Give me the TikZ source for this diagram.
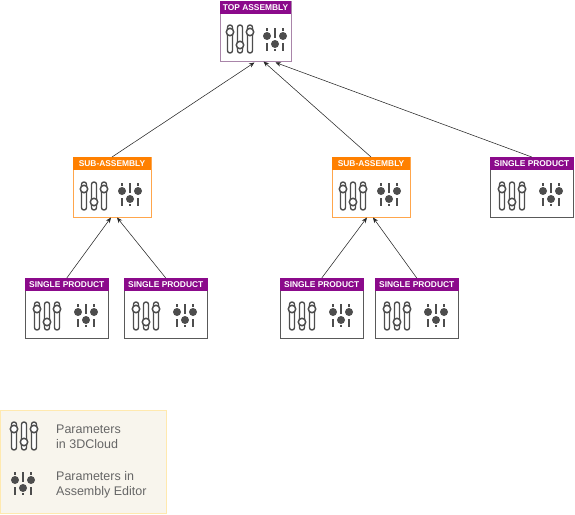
\documentclass[tikz,border=0pt]{standalone}
\usepackage{fontspec}
\setmainfont{Liberation Sans}
\usetikzlibrary{arrows.meta}
\definecolor{prod}{HTML}{8B0A8B}
\definecolor{subc}{HTML}{FF8000}
\definecolor{icon}{HTML}{4D4D4D}
\definecolor{legfill}{HTML}{F8F5ED}
\definecolor{legline}{HTML}{FFE9AF}
\definecolor{legtext}{HTML}{666666}
\tikzset{
  x=1pt,y=-1pt,
  boxbase/.style={draw,line width=0.8pt,fill=white,anchor=north west,minimum height=60.5pt,inner sep=0pt,outer sep=0pt},
  topbox/.style={boxbase,draw=prod!40!gray!70!white,minimum width=71pt},
  subbox/.style={boxbase,draw=subc!70!white,minimum width=78pt},
  prodbox/.style={boxbase,draw=black!65,minimum width=83.5pt},
  headbase/.style={anchor=north,minimum height=13pt,inner sep=0pt,outer sep=0pt,text=white,font=\bfseries\fontsize{8.4}{9}\selectfont},
  prodhead/.style={headbase,fill=prod},
  subhead/.style={headbase,fill=subc},
  link/.style={draw=black!85,line width=0.55pt,-{Stealth[length=5.5pt,width=4.5pt]}},
  legbox/.style={draw=legline,line width=0.8pt,fill=legfill,anchor=north west,minimum width=166pt,minimum height=103pt,inner sep=0pt,outer sep=0pt},
  legtxt/.style={anchor=west,align=left,inner sep=0pt,text=legtext,font=\fontsize{12.5}{15}\selectfont},
  tube/.style={draw=icon,line width=1.4pt,fill=white,rounded corners=2.4pt},
  knob/.style={draw=icon,line width=1.5pt,fill=white},
  tick/.style={draw=icon,line width=1.7pt},
  slidersicon/.pic={
    \path[tube] (1.5,0) rectangle (6.5,28);
    \path[tube] (11.5,0) rectangle (16.5,28);
    \path[tube] (21.5,0) rectangle (26.5,28);
    \path[knob] (4,7) circle (3.7);
    \path[knob] (14,20) circle (3.7);
    \path[knob] (24,7) circle (3.7);
  },
  knobsicon/.pic={
    \path[tick] (0,0) -- (0,2.5);
    \fill[icon] (0,8) circle (4);
    \path[tick] (0,15) -- (0,22.5);
    \path[tick] (8,0) -- (8,10);
    \fill[icon] (8,16) circle (4);
    \path[tick] (8,21) -- (8,23);
    \path[tick] (16,0) -- (16,2.5);
    \fill[icon] (16,8) circle (4);
    \path[tick] (16,15) -- (16,22.5);
  }
}
\begin{document}
\begin{tikzpicture}
\useasboundingbox (0,0) rectangle (575,514);
% boxes
\node[topbox] (top) at (220,1) {};
\node[prodhead,minimum width=71pt] (toph) at (top.north) {TOP ASSEMBLY};
\node[subbox] (sa) at (73,157) {};
\node[subhead,minimum width=78pt] (sah) at (sa.north) {SUB-ASSEMBLY};
\node[subbox] (sb) at (332,157) {};
\node[subhead,minimum width=78pt] (sbh) at (sb.north) {SUB-ASSEMBLY};
\node[prodbox] (pr) at (490,157) {};
\node[prodhead,minimum width=83.5pt] (prh) at (pr.north) {SINGLE PRODUCT};
\node[prodbox] (pa) at (25,278) {};
\node[prodhead,minimum width=83.5pt] (pah) at (pa.north) {SINGLE PRODUCT};
\node[prodbox] (pb) at (124,278) {};
\node[prodhead,minimum width=83.5pt] (pbh) at (pb.north) {SINGLE PRODUCT};
\node[prodbox] (pc) at (280,278) {};
\node[prodhead,minimum width=83.5pt] (pch) at (pc.north) {SINGLE PRODUCT};
\node[prodbox] (pd) at (375,278) {};
\node[prodhead,minimum width=83.5pt] (pdh) at (pd.north) {SINGLE PRODUCT};
% icons
\pic at (226,25) {slidersicon};
\pic at (267,28) {knobsicon};
\pic at (80,182) {slidersicon};
\pic at (122,183) {knobsicon};
\pic at (339,182) {slidersicon};
\pic at (381,183) {knobsicon};
\pic at (498,182) {slidersicon};
\pic at (543,183) {knobsicon};
\pic at (33,302) {slidersicon};
\pic at (78,304) {knobsicon};
\pic at (132,302) {slidersicon};
\pic at (177,304) {knobsicon};
\pic at (288,302) {slidersicon};
\pic at (333,304) {knobsicon};
\pic at (383,302) {slidersicon};
\pic at (428,304) {knobsicon};
% connectors
\path[link] (sa.north) -- ([xshift=-1pt,yshift=-1pt]top.south);
\path[link] (sb.north) -- ([xshift=8pt]top.south);
\path[link] (pr.north) -- ([xshift=20pt,yshift=-1pt]top.south);
\path[link] (pa.north) -- ([xshift=-1pt]sa.south);
\path[link] (pb.north) -- ([xshift=5pt]sa.south);
\path[link] (pc.north) -- ([xshift=-4pt]sb.south);
\path[link] (pd.north) -- ([xshift=2pt]sb.south);
% legend
\node[legbox] (leg) at (0,410) {};
\pic at (10,422) {slidersicon};
\pic at (15,472) {knobsicon};
\node[legtxt] (l1) at (56,436.5) {Parameters\\in 3DCloud};
\node[legtxt] (l2) at (56,485) {Parameters in\\Assembly Editor};
\end{tikzpicture}
\end{document}
